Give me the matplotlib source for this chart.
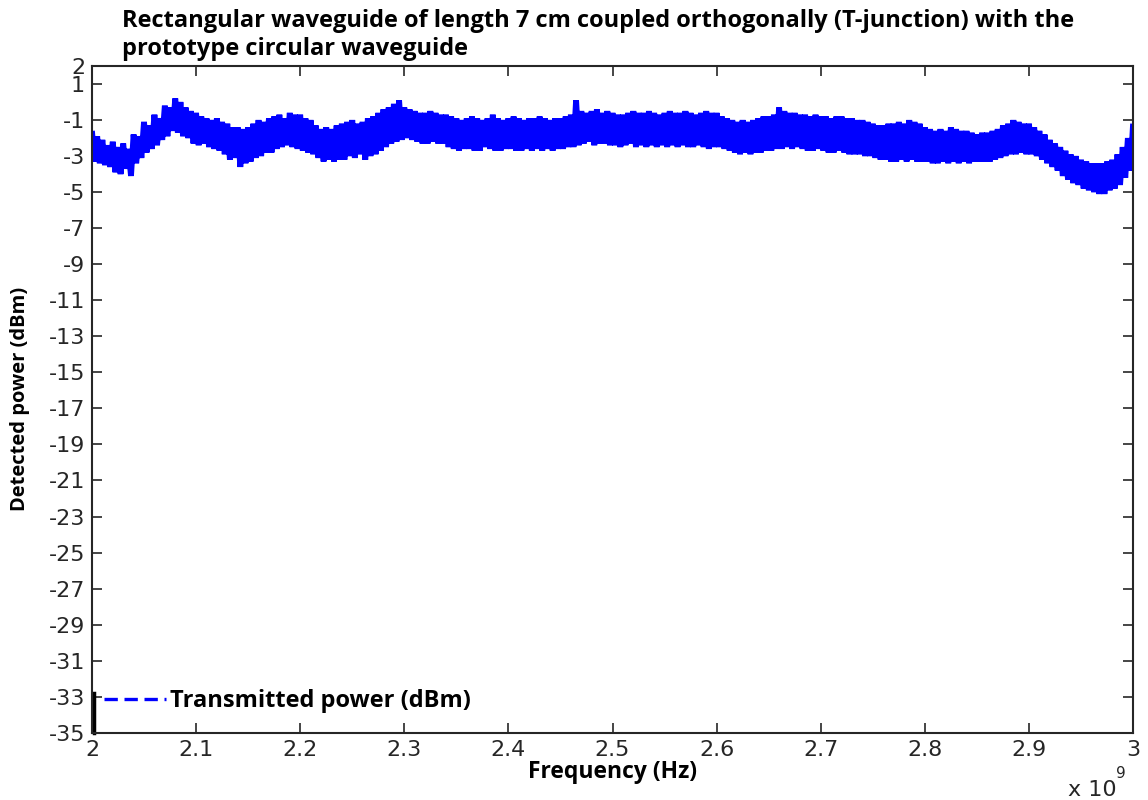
import numpy as np
import matplotlib
matplotlib.use('Agg')
import matplotlib.pyplot as plt
from matplotlib.lines import Line2D

matplotlib.rcParams['axes.unicode_minus'] = False

TITLE = ('Rectangular waveguide of length 7 cm coupled orthogonally (T-junction) with the\n'
         'prototype circular waveguide')

# Detected power sweep, 2-3 GHz, one reading every 2.5 MHz (dBm)
power = [
    -1.6, -3.3, -1.9, -3.4, -2.1, -3.5, -2.4, -3.6, -2.2, -3.9, -2.5, -4.0, -2.3, -3.7, -2.6, -4.1, -1.8, -3.4, -1.9, -3.1,
    -1.1, -2.8, -1.3, -2.6, -0.7, -2.4, -0.9, -2.1, -0.2, -1.9, -0.3, -1.6, 0.2, -1.7, 0.0, -1.9, -0.3, -2.0, -0.5, -2.3,
    -0.6, -2.4, -0.8, -2.3, -0.9, -2.5, -1.0, -2.6, -0.9, -2.7, -1.1, -2.9, -1.2, -3.2, -1.4, -3.1, -1.4, -3.6, -1.5, -3.4,
    -1.4, -3.3, -1.2, -3.1, -1.0, -3.0, -1.1, -2.8, -0.9, -2.8, -0.8, -2.6, -0.7, -2.5, -0.9, -2.4, -0.6, -2.5, -0.7, -2.6,
    -0.7, -2.7, -0.9, -2.8, -1.0, -2.9, -1.3, -3.1, -1.5, -3.3, -1.4, -3.2, -1.5, -3.3, -1.3, -3.2, -1.2, -3.2, -1.1, -3.0,
    -1.0, -3.1, -1.2, -2.9, -1.1, -3.2, -0.9, -3.0, -0.8, -2.9, -0.6, -2.7, -0.4, -2.5, -0.3, -2.3, -0.1, -2.2, 0.1, -2.1,
    -0.3, -2.0, -0.4, -2.1, -0.5, -2.2, -0.6, -2.3, -0.6, -2.3, -0.5, -2.2, -0.6, -2.3, -0.7, -2.3, -0.7, -2.5, -0.8, -2.6,
    -0.9, -2.7, -1.0, -2.6, -0.9, -2.6, -0.8, -2.7, -0.9, -2.7, -1.0, -2.5, -0.9, -2.6, -0.7, -2.7, -0.9, -2.7, -1.0, -2.6,
    -0.9, -2.6, -0.8, -2.7, -0.9, -2.7, -1.0, -2.6, -0.9, -2.7, -0.9, -2.6, -0.8, -2.7, -0.9, -2.6, -1.0, -2.7, -0.9, -2.6,
    -0.9, -2.6, -0.8, -2.5, -0.7, -2.5, 0.1, -2.4, -0.5, -2.3, -0.6, -2.2, -0.5, -2.4, -0.4, -2.3, -0.6, -2.3, -0.5, -2.4,
    -0.6, -2.4, -0.7, -2.5, -0.7, -2.4, -0.6, -2.3, -0.5, -2.5, -0.6, -2.4, -0.6, -2.5, -0.5, -2.4, -0.6, -2.5, -0.7, -2.4,
    -0.6, -2.5, -0.5, -2.4, -0.6, -2.5, -0.6, -2.4, -0.5, -2.5, -0.6, -2.5, -0.7, -2.4, -0.6, -2.5, -0.5, -2.6, -0.6, -2.5,
    -0.6, -2.5, -0.8, -2.6, -0.9, -2.7, -1.0, -2.8, -1.1, -2.9, -1.0, -2.8, -1.1, -2.9, -1.0, -2.8, -0.9, -2.8, -0.8, -2.7,
    -0.8, -2.7, -0.7, -2.6, -0.3, -2.6, -0.5, -2.5, -0.6, -2.6, -0.6, -2.5, -0.7, -2.6, -0.7, -2.7, -0.8, -2.7, -0.7, -2.6,
    -0.8, -2.7, -0.8, -2.8, -0.9, -2.8, -0.8, -2.7, -0.8, -2.8, -0.9, -2.9, -0.9, -2.9, -1.0, -2.9, -1.0, -3.0, -1.1, -3.0,
    -1.2, -3.1, -1.3, -3.2, -1.3, -3.2, -1.2, -3.3, -1.2, -3.3, -1.1, -3.2, -1.2, -3.3, -1.0, -3.2, -1.1, -3.3, -1.2, -3.3,
    -1.4, -3.3, -1.5, -3.4, -1.6, -3.4, -1.5, -3.3, -1.6, -3.4, -1.4, -3.3, -1.5, -3.4, -1.6, -3.3, -1.6, -3.4, -1.7, -3.3,
    -1.8, -3.3, -1.7, -3.3, -1.7, -3.3, -1.6, -3.2, -1.5, -3.1, -1.3, -3.0, -1.2, -2.9, -1.0, -2.9, -1.1, -2.8, -1.2, -2.9,
    -1.2, -2.9, -1.4, -3.0, -1.6, -3.2, -1.8, -3.4, -2.1, -3.6, -2.3, -3.8, -2.5, -4.1, -2.7, -4.3, -2.9, -4.5, -3.0, -4.6,
    -3.2, -4.8, -3.3, -4.9, -3.4, -5.0, -3.4, -5.1, -3.4, -5.1, -3.3, -4.9, -3.2, -4.8, -2.9, -4.6, -2.5, -4.2, -2.0, -3.8,
    -1.2,
]
freq = np.linspace(2e9, 3e9, len(power))

x_ticks = [2.0, 2.1, 2.2, 2.3, 2.4, 2.5, 2.6, 2.7, 2.8, 2.9, 3.0]
y_ticks = [2, 1, -1, -3, -5, -7, -9, -11, -13, -15, -17, -19, -21, -23, -25,
           -27, -29, -31, -33, -35]

bold_font = 'Open Sans'
tick_font = 'DejaVu Sans'
ink = '#262626'

fig = plt.figure(figsize=(11.48, 8.0), dpi=100)
ax = fig.add_axes([0.0801, 0.084, 0.9069, 0.8335])

ax.plot(freq / 1e9, power, color='#0000ff', lw=4.2, solid_joinstyle='bevel',
        solid_capstyle='butt')

ax.set_xlim(2, 3)
ax.set_ylim(-35, 2)
ax.set_xticks(x_ticks)
ax.set_xticklabels(['%g' % t for t in x_ticks])
ax.set_yticks(y_ticks)
ax.set_yticklabels([str(t) for t in y_ticks])
ax.tick_params(direction='in', length=7, width=1.2, top=True, right=True,
               labelsize=16, colors=ink, pad=5)
for lbl in ax.get_xticklabels() + ax.get_yticklabels():
    lbl.set_family(tick_font)
for sp in ax.spines.values():
    sp.set_linewidth(1.5)
    sp.set_color(ink)

ax.set_xlabel('Frequency (Hz)', family=bold_font, fontweight='bold', fontsize=16.5, labelpad=0)
ax.set_ylabel('Detected power (dBm)', family=bold_font, fontweight='bold', fontsize=14.5,
              va='center')
ax.yaxis.set_label_coords(-0.069, 0.5)
fig.text(122 / 1148, 1 - 9 / 800, TITLE, family=bold_font, fontweight='bold', fontsize=17,
         ha='left', va='top', linespacing=1.2)

# scale factor of the frequency axis
fig.text(1068 / 1148, 1 - 796 / 800, 'x 10', family=tick_font, fontsize=16,
         color=ink, ha='left', va='baseline')
fig.text(1116 / 1148, 1 - 778 / 800, '9', family=tick_font, fontsize=11,
         color=ink, ha='left', va='baseline')

handle = Line2D([], [], color='#0000ff', ls='--', lw=2.4, dashes=(4, 2))
leg = ax.legend([handle], ['Transmitted power (dBm)'], loc='lower left',
                bbox_to_anchor=(-0.004, 0.005), frameon=False, handlelength=2.6,
                handletextpad=0.2, borderaxespad=0.3,
                prop={'family': bold_font, 'weight': 'bold', 'size': 17})
ax.plot([2.0015, 2.0015], [-35, -32.8], color='black', lw=2.5, clip_on=False)

fig.savefig('out.png', dpi=100)
